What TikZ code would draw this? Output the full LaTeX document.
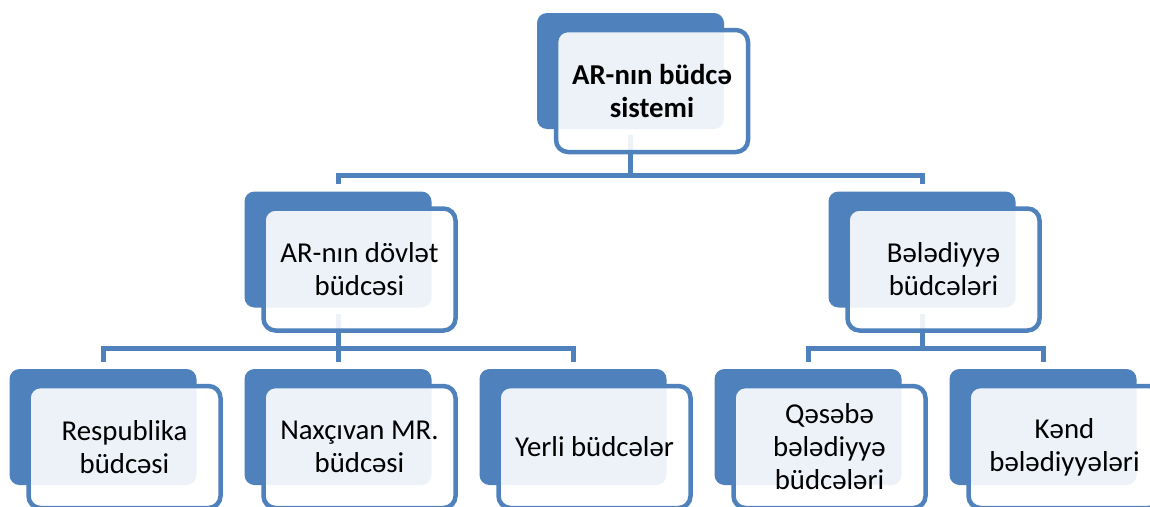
\documentclass[tikz,border=0pt]{standalone}
\usepackage{fontspec}
\setmainfont{Carlito}
\definecolor{bx}{HTML}{4F81BD}
\tikzset{
  backbox/.style={fill=bx, draw=none, rounded corners=10pt, minimum width=187pt, minimum height=116pt, inner sep=0pt},
  frontbox/.style={draw=bx, line width=4.5pt, fill=white, fill opacity=0.9, text opacity=1, rounded corners=12pt,
    minimum width=192pt, minimum height=122pt, inner sep=0pt, align=center, font=\fontsize{28.8}{33}\selectfont},
  conn/.style={draw=bx, line width=5pt, shorten <=6pt, shorten >=7pt}
}
\begin{document}
\begin{tikzpicture}[x=1pt,y=-1pt]
\useasboundingbox (0,0) rectangle (1150,506);
% back boxes
\node[backbox] (t) at (630.5,71) {};
\node[backbox] (l) at (338,249.5) {};
\node[backbox] (r) at (922,249.5) {};
\node[backbox] (b1) at (103,427) {};
\node[backbox] (b2) at (338,427) {};
\node[backbox] (b3) at (573,427) {};
\node[backbox] (b4) at (808,427) {};
\node[backbox] (b5) at (1043,427) {};
% connectors
\coordinate (j1) at (630.5,175);
\coordinate (j2) at (338,348);
\coordinate (j3) at (922,348);
\draw[conn, shorten >=0pt] (t.south) -- (j1);
\draw[conn, shorten <=0pt] (j1) -| (l.north);
\draw[conn, shorten <=0pt] (j1) -| (r.north);
\draw[conn, shorten >=0pt] (l.south) -- (j2);
\draw[conn, shorten <=0pt] (j2) -| (b1.north);
\draw[conn, shorten <=0pt] (j2) -- (b2.north);
\draw[conn, shorten <=0pt] (j2) -| (b3.north);
\draw[conn, shorten >=0pt] (r.south) -- (j3);
\draw[conn, shorten <=0pt] (j3) -| (b4.north);
\draw[conn, shorten <=0pt] (j3) -| (b5.north);
% front boxes
\node[frontbox] (tf) at ([shift={(21.5,20)}]t.center) {\textbf{AR-nın büdcə}\\\textbf{sistemi}};
\node[frontbox] (lf) at ([shift={(21.5,20)}]l.center) {AR-nın dövlət\\büdcəsi};
\node[frontbox] (rf) at ([shift={(21.5,20)}]r.center) {Bələdiyyə\\büdcələri};
\node[frontbox] (b1f) at ([shift={(21.5,20)}]b1.center) {Respublika\\büdcəsi};
\node[frontbox] (b2f) at ([shift={(21.5,20)}]b2.center) {Naxçıvan MR.\\büdcəsi};
\node[frontbox] (b3f) at ([shift={(21.5,20)}]b3.center) {Yerli büdcələr};
\node[frontbox] (b4f) at ([shift={(21.5,20)}]b4.center) {Qəsəbə\\bələdiyyə\\büdcələri};
\node[frontbox] (b5f) at ([shift={(21.5,20)}]b5.center) {Kənd\\bələdiyyələri};
\end{tikzpicture}
\end{document}
